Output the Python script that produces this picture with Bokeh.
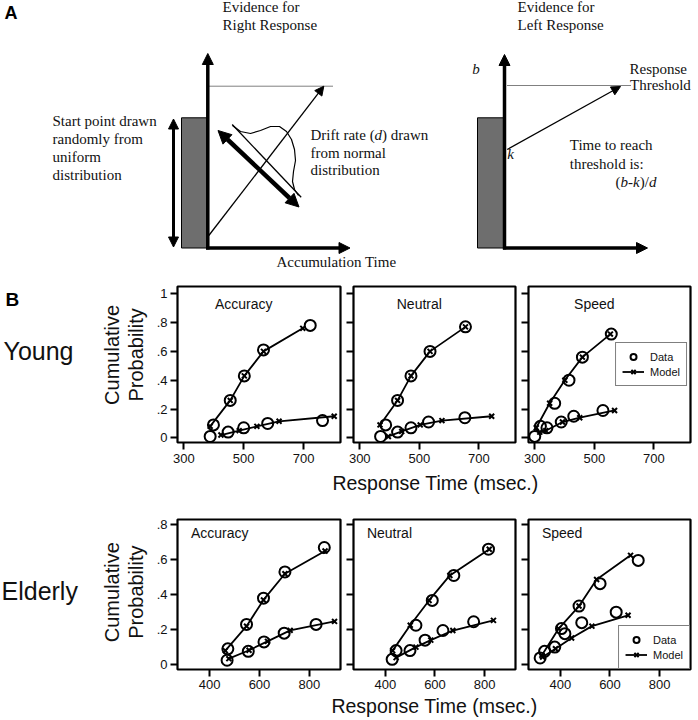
import numpy as np
from bokeh.plotting import figure
from bokeh.models import (Range1d, FixedTicker, Arrow, NormalHead, Legend, LegendItem,
                          ColumnDataSource)
from bokeh.layouts import column, row
from bokeh.core.properties import value
from bokeh.embed import file_html
from bokeh.resources import INLINE

SANS = "Liberation Sans"
SERIF = "Liberation Serif"
INK = "#111111"

# ---------------------------------------------------------------- panel B data
# Young - Accuracy (dc/de = data correct/error curves, mc/me = model)
ya_dc_x = [399, 455, 502, 566, 722]; ya_dc_y = [0.09, 0.26, 0.43, 0.61, 0.78]
ya_mc_x = [388, 455, 502, 566, 697]; ya_mc_y = [0.08, 0.26, 0.43, 0.60, 0.76]
ya_de_x = [388, 448, 500, 580, 763]; ya_de_y = [0.01, 0.04, 0.07, 0.10, 0.12]
ya_me_x = [424, 485, 544, 618, 802]; ya_me_y = [0.02, 0.05, 0.08, 0.115, 0.15]
# Young - Neutral
yn_dc_x = [387, 427, 472, 536, 655]; yn_dc_y = [0.09, 0.26, 0.43, 0.60, 0.77]
yn_mc_x = [368, 427, 472, 536, 655]; yn_mc_y = [0.09, 0.26, 0.43, 0.60, 0.77]
yn_de_x = [370, 427, 472, 531, 653]; yn_de_y = [0.01, 0.04, 0.07, 0.11, 0.14]
yn_me_x = [396, 441, 503, 576, 743]; yn_me_y = [0.01, 0.045, 0.09, 0.12, 0.15]
# Young - Speed
ys_dc_x = [319, 367, 415, 460, 557]; ys_dc_y = [0.08, 0.24, 0.40, 0.56, 0.72]
ys_mc_x = [305, 350, 401, 460, 554]; ys_mc_y = [0.07, 0.24, 0.40, 0.56, 0.72]
ys_de_x = [300, 341, 389, 431, 529]; ys_de_y = [0.01, 0.07, 0.11, 0.15, 0.19]
ys_me_x = [317, 337, 393, 451, 568]; ys_me_y = [0.04, 0.05, 0.11, 0.14, 0.19]
# Elderly - Accuracy
ea_dc_x = [473, 548, 616, 702, 860]; ea_dc_y = [0.09, 0.23, 0.38, 0.53, 0.67]
ea_mc_x = [463, 548, 616, 702, 863]; ea_mc_y = [0.08, 0.22, 0.37, 0.52, 0.65]
ea_de_x = [470, 555, 618, 699, 827]; ea_de_y = [0.025, 0.076, 0.13, 0.18, 0.23]
ea_me_x = [477, 558, 632, 723, 901]; ea_me_y = [0.034, 0.082, 0.133, 0.196, 0.247]
# Elderly - Neutral
en_dc_x = [443, 523, 589, 676, 816]; en_dc_y = [0.08, 0.225, 0.367, 0.51, 0.66]
en_mc_x = [429, 500, 576, 660, 819]; en_mc_y = [0.08, 0.225, 0.367, 0.51, 0.66]
en_de_x = [427, 499, 560, 632, 756]; en_de_y = [0.03, 0.08, 0.14, 0.195, 0.245]
en_me_x = [443, 523, 583, 672, 836]; en_me_y = [0.04, 0.10, 0.14, 0.195, 0.253]
# Elderly - Speed
es_dc_x = [336, 404, 475, 560, 714]; es_dc_y = [0.076, 0.206, 0.335, 0.463, 0.596]
es_mc_x = [325, 393, 475, 546, 683]; es_mc_y = [0.053, 0.206, 0.335, 0.487, 0.625]
es_de_x = [318, 377, 418, 486, 625]; es_de_y = [0.038, 0.10, 0.177, 0.24, 0.30]
es_me_x = [328, 380, 445, 527, 673]; es_me_y = [0.043, 0.091, 0.152, 0.22, 0.282]

conditions = ["Accuracy", "Neutral", "Speed"]
young_xticks = [300, 500, 700]
elderly_xticks = [400, 600, 800]
young_yticks = [0, 0.2, 0.4, 0.6, 0.8, 1]
young_ylabels = ["0", ".2", ".4", ".6", ".8", "1"]
elderly_yticks = [0, 0.2, 0.4, 0.6, 0.8]
elderly_ylabels = ["0", ".2", ".4", ".6", ".8"]
x_title = "Response Time (msec.)"
y_title = ["Cumulative", "Probability"]

# ---------------------------------------------------------------- panel A diagram (picture px, y down)
axis_x0 = [207.3, 205.5, 504.0, 502.5]
axis_y0 = [249.0, 247.5, 249.0, 247.5]
axis_x1 = [207.3, 349.5, 504.0, 647.0]
axis_y1 = [53.0, 247.5, 54.0, 247.5]
box_left = [181.0, 477.0]
box_right = [206.5, 503.0]
box_top = [117.3, 117.3]
box_bottom = [247.5, 247.5]
thresh_x0 = [209.0, 507.0]
thresh_x1 = [333.0, 630.0]
thresh_y = [85.7, 85.0]
path_x0 = [208.3, 506.7]; path_y0 = [235.0, 149.0]
path_x1 = [323.3, 620.0]; path_y1 = [85.7, 86.0]
start_arrow = [173.0, 118.5, 173.0, 246.5]
drift_arrow = [217.5, 130.0, 298.5, 206.5]
drift_base = [231.7, 124.0, 300.7, 196.7]
bell_x = [232, 240, 250, 260, 270, 279, 286, 291, 294, 295, 293, 292, 294, 298]
bell_y = [125, 131, 133, 130, 126, 126, 131, 139, 149, 160, 171, 181, 189, 195]


def neg(v):
    return [-a for a in v]


def blank(w, h, x0, y_top):
    # page-pixel frame: x from x0, y (downwards) from y_top; data y is negated
    p = figure(width=w, height=h, x_range=Range1d(x0, x0 + w),
               y_range=Range1d(-(y_top + h), -y_top),
               output_backend="svg", toolbar_location=None,
               x_axis_location=None, y_axis_location=None, min_border=0)
    p.grid.visible = False
    p.outline_line_color = None
    p.background_fill_color = "white"
    p.border_fill_color = "white"
    return p


def txt(p, x, y, s, size, font=SERIF, style="normal", align="left",
        vertical=False, color=INK):
    # (x, y) is the baseline point in page pixels; text is anchored at its middle
    shift = 0.35 * size
    if vertical:
        ax, ay, ang = x - shift, y, np.pi / 2
    else:
        ax, ay, ang = x, y - shift, 0.0
    p.text(x=[ax], y=[-ay], text=[s], text_font=value(font), text_font_size=f"{size}px",
           text_font_style=style, text_align=align, text_baseline="middle",
           angle=ang, text_color=color)


# ---------------------------------------------------------------- figure A
pa = blank(698, 280, 0, 0)
pa.quad(left=box_left, right=box_right, top=neg(box_top), bottom=neg(box_bottom),
        fill_color="#6e6e6e", line_color="black", line_width=1)
pa.add_layout(Arrow(end=NormalHead(size=11, fill_color="black", line_color="black"),
                    source=ColumnDataSource(dict(x0=axis_x0, y0=neg(axis_y0),
                                                 x1=axis_x1, y1=neg(axis_y1))),
                    x_start="x0", y_start="y0", x_end="x1", y_end="y1",
                    line_width=3.5, line_color="black"))
pa.segment(x0=thresh_x0, x1=thresh_x1, y0=neg(thresh_y), y1=neg(thresh_y),
           line_color="black", line_width=1, line_dash="1 1")
pa.add_layout(Arrow(end=NormalHead(size=9, fill_color="black", line_color="black"),
                    source=ColumnDataSource(dict(x0=path_x0, y0=neg(path_y0),
                                                 x1=path_x1, y1=neg(path_y1))),
                    x_start="x0", y_start="y0", x_end="x1", y_end="y1",
                    line_width=1.3, line_color="black"))
pa.add_layout(Arrow(start=NormalHead(size=10, fill_color="black", line_color="black"),
                    end=NormalHead(size=10, fill_color="black", line_color="black"),
                    x_start=start_arrow[0], y_start=-start_arrow[1],
                    x_end=start_arrow[2], y_end=-start_arrow[3],
                    line_width=3, line_color="black"))
pa.add_layout(Arrow(start=NormalHead(size=13, fill_color="black", line_color="black"),
                    end=NormalHead(size=13, fill_color="black", line_color="black"),
                    x_start=drift_arrow[0], y_start=-drift_arrow[1],
                    x_end=drift_arrow[2], y_end=-drift_arrow[3],
                    line_width=4.5, line_color="black"))
pa.segment(x0=[drift_base[0]], y0=[-drift_base[1]], x1=[drift_base[2]], y1=[-drift_base[3]],
           line_color="black", line_width=1.3)
pa.line(bell_x, neg(bell_y), line_color="black", line_width=1.2)

txt(pa, 4, 18.3, "A", 18, font=SANS, style="bold", color="black")
txt(pa, 222, 11.5, "Evidence for", 15)
txt(pa, 222, 29.5, "Right Response", 15)
for i, s in enumerate(["Start point drawn", "randomly from", "uniform", "distribution"]):
    txt(pa, 52, 126 + 18 * i, s, 15)
txt(pa, 310, 140, "Drift rate (", 15)
txt(pa, 374, 140, "d", 15, style="italic")
txt(pa, 381.5, 140, ") drawn", 15)
txt(pa, 310, 157.5, "from normal", 15)
txt(pa, 310, 175, "distribution", 15)
txt(pa, 276, 266.7, "Accumulation Time", 15)
txt(pa, 517, 11.5, "Evidence for", 15)
txt(pa, 517, 29.5, "Left Response", 15)
txt(pa, 471.7, 73.3, "b", 15, style="italic")
txt(pa, 629, 74, "Response", 15)
txt(pa, 629.5, 90, "Threshold", 15)
txt(pa, 506.7, 158.3, "k", 15, style="italic")
txt(pa, 569.3, 150, "Time to reach", 15)
txt(pa, 569.3, 168.3, "threshold is:", 15)
for xs, s, st in [(615, "(", "normal"), (620, "b", "italic"), (627.5, "-", "normal"),
                  (632.5, "k", "italic"), (639.2, ")/", "normal"), (648.4, "d", "italic")]:
    txt(pa, xs, 186.7, s, 15, style=st)


# ---------------------------------------------------------------- panel B
def panel(width, height, left, right, top, bottom, xr, yr, xticks, yticks, ylabels,
          show_y, dc, de, mc, me, title, tx, ty, talign, legend_loc=None, legend_margin=0,
          xstandoff=4):
    p = figure(width=width, height=height, x_range=Range1d(*xr), y_range=Range1d(*yr),
               output_backend="svg", toolbar_location=None,
               min_border_left=left, min_border_right=right,
               min_border_top=top, min_border_bottom=bottom)
    p.grid.visible = False
    p.outline_line_color = "black"
    p.outline_line_width = 2.2
    p.background_fill_color = "white"
    p.border_fill_color = "white"
    for ax, ticks in ((p.xaxis[0], xticks), (p.yaxis[0], yticks)):
        ax.ticker = FixedTicker(ticks=ticks)
        ax.axis_line_color = None
        ax.major_tick_out = 7
        ax.major_tick_in = 0
        ax.major_tick_line_width = 2
        ax.major_tick_line_color = "black"
        ax.minor_tick_line_color = None
        ax.major_label_text_font = SANS
        ax.major_label_text_font_size = "13px"
        ax.major_label_text_color = INK
    p.xaxis[0].major_label_standoff = xstandoff
    p.yaxis[0].major_label_standoff = 3
    if show_y:
        p.yaxis[0].major_label_overrides = {t: l for t, l in zip(yticks, ylabels)}
    else:
        p.yaxis[0].major_label_overrides = {t: "" for t in yticks}
        p.yaxis[0].major_label_standoff = 0
    rends = {}
    for (xs, ys) in (mc, me):
        rl = p.line(xs, ys, line_color="black", line_width=1.8)
        rx = p.scatter(xs, ys, marker="x", size=7, line_color="black", line_width=2)
        rends["model"] = [rl, rx]
    for (xs, ys) in (dc, de):
        rc = p.scatter(xs, ys, marker="circle", size=11, fill_color=None,
                       line_color="black", line_width=2)
        rends["data"] = [rc]
    p.text(x=[tx], y=[ty], text=[title], text_font=value(SANS), text_font_size="14px",
           text_align=talign, text_baseline="middle", text_color=INK)
    if legend_loc is not None:
        leg = Legend(items=[LegendItem(label="Data", renderers=rends["data"]),
                            LegendItem(label="Model", renderers=rends["model"])],
                     location=legend_loc, margin=legend_margin,
                     border_line_color="black", border_line_width=1.5,
                     background_fill_color="white", background_fill_alpha=1,
                     label_text_font=SANS, label_text_font_size="11px",
                     label_text_color=INK, glyph_width=22, glyph_height=15,
                     label_height=15, spacing=0, padding=6, label_standoff=6)
        p.add_layout(leg)
    return p


Y_XR = (279, 823)
Y_YR = (-0.032, 1.05)
E_XR = (271, 925)
E_YR = (-0.028, 0.83)

young = [
    ((ya_dc_x, ya_dc_y), (ya_de_x, ya_de_y), (ya_mc_x, ya_mc_y), (ya_me_x, ya_me_y)),
    ((yn_dc_x, yn_dc_y), (yn_de_x, yn_de_y), (yn_mc_x, yn_mc_y), (yn_me_x, yn_me_y)),
    ((ys_dc_x, ys_dc_y), (ys_de_x, ys_de_y), (ys_mc_x, ys_mc_y), (ys_me_x, ys_me_y)),
]
elderly = [
    ((ea_dc_x, ea_dc_y), (ea_de_x, ea_de_y), (ea_mc_x, ea_mc_y), (ea_me_x, ea_me_y)),
    ((en_dc_x, en_dc_y), (en_de_x, en_de_y), (en_mc_x, en_mc_y), (en_me_x, en_me_y)),
    ((es_dc_x, es_dc_y), (es_de_x, es_de_y), (es_mc_x, es_mc_y), (es_me_x, es_me_y)),
]

# (figure width, left border, right border) for the three columns
geo = [(196, 27, 6), (175, 7, 6), (177, 7, 8)]

young_figs = []
for i, (d, (w, l, r)) in enumerate(zip(young, geo)):
    young_figs.append(panel(w, 190, l, r, 6, 28, Y_XR, Y_YR, young_xticks, young_yticks,
                            young_ylabels, i == 0, *d, conditions[i], 500, 0.93, "center",
                            legend_loc="center_right" if i == 2 else None, legend_margin=3))
elderly_figs = []
for i, (d, (w, l, r)) in enumerate(zip(elderly, geo)):
    elderly_figs.append(panel(w, 194, l, r, 19, 25, E_XR, E_YR, elderly_xticks, elderly_yticks,
                              elderly_ylabels, i == 0, *d, conditions[i], 325, 0.755, "left",
                              legend_loc="bottom_right" if i == 2 else None, legend_margin=0,
                              xstandoff=3))

# row labels (page-pixel coordinates)
ly = blank(150, 190, 0, 280)
txt(ly, 5, 302, "B", 19, font=SANS, style="bold", color="black")
txt(ly, 3, 367.3, "Young", 25, font=SANS)
txt(ly, 118, 363.3, y_title[0], 20, font=SANS, align="center", vertical=True)
txt(ly, 142, 363.3, y_title[1], 20, font=SANS, align="center", vertical=True)

le = blank(150, 194, 0, 500)
txt(le, 1, 601.7, "Elderly", 25, font=SANS)
txt(le, 118, 594, y_title[0], 20, font=SANS, align="center", vertical=True)
txt(le, 142, 594, y_title[1], 20, font=SANS, align="center", vertical=True)

xy = blank(698, 30, 0, 470)
txt(xy, 435, 489.3, x_title, 19.5, font=SANS, align="center")
xe = blank(698, 26, 0, 694)
txt(xe, 434, 712, x_title, 19.5, font=SANS, align="center")

layout = column(pa,
                row(ly, *young_figs),
                xy,
                row(le, *elderly_figs),
                xe)

with open("out.html", "w") as f:
    f.write(file_html(layout, INLINE))
